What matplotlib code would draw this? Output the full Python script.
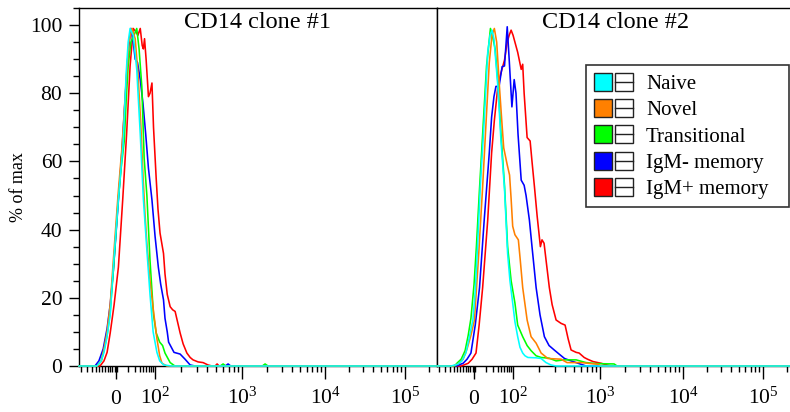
import numpy as np
import matplotlib
matplotlib.use('Agg')
import matplotlib.pyplot as plt
from matplotlib.patches import Rectangle, Patch
from matplotlib.lines import Line2D
from matplotlib.legend_handler import HandlerBase
from matplotlib.ticker import FixedLocator, FixedFormatter, MultipleLocator

plt.rcParams['font.family'] = ['Liberation Serif', 'DejaVu Serif']
plt.rcParams['mathtext.fontset'] = 'custom'
plt.rcParams['mathtext.rm'] = 'Liberation Serif'
plt.rcParams['mathtext.it'] = 'Liberation Serif:italic'
plt.rcParams['mathtext.bf'] = 'Liberation Serif:bold'

# ---------------- data (fluorescence value, % of max) ----------------
series_names = ['Naive', 'Novel', 'Transitional', 'IgM- memory', 'IgM+ memory']
series_colors = ['#00FFFF', '#FF8000', '#00FF00', '#0000FF', '#FF0000']
panel_titles = ['CD14 clone #1', 'CD14 clone #2']
x_major_ticks = [0, 100, 1000, 10000, 100000]
x_major_labels = ['0', r'$10^2$', r'$10^3$', r'$10^4$', r'$10^5$']

# Panel 1
naive1_x = [-95, -49, -38, -31, -24, -15, -7, 6, 18, 26, 31, 36, 44, 53, 62, 70, 79, 87, 95, 105,
            113, 126, 154, 250000]
naive1_y = [0, 0, 1.5, 4, 8, 15, 29, 49, 65, 86, 95, 99, 97, 87, 68, 49, 34, 21, 10, 4,
            1.5, 0.3, 0, 0]
novel1_x = [-95, -49, -38, -31, -23, -15, -7, 5, 15, 26, 33, 41, 49, 56, 63, 69, 74, 79, 87, 96,
            105, 113, 120, 137, 250000]
novel1_y = [0, 0, 1.5, 5, 10, 18, 31, 50, 64, 84, 95, 99, 96, 86, 72, 56, 45, 36, 25, 16,
            8, 3, 0.8, 0, 0]
trans1_x = [-95, -49, -38, -31, -23, -15, -7, 5, 13, 21, 26, 31, 38, 46, 53, 59, 66, 72, 79, 87,
            96, 103, 113, 122, 130, 149, 169, 560, 605, 650, 1750, 1892, 2050, 250000]
trans1_y = [0, 0, 1.5, 4.5, 9, 16, 28, 48, 58, 66, 78, 88, 95, 97, 99, 93, 82, 61, 50, 31,
            15, 9.7, 7, 6, 3.8, 1, 0, 0, 0.6, 0, 0, 0.6, 0, 0]
igmneg1_x = [-95, -54, -44, -33, -23, -15, -7, 5, 15, 23, 31, 38, 44, 49, 55, 62, 69, 76, 83, 92,
             100, 109, 116, 125, 130, 138, 143, 165, 194, 221, 253, 288, 640, 690, 740, 250000]
igmneg1_y = [0, 0, 1.5, 5, 11, 18, 28, 47, 63, 78, 92, 99, 95, 90, 89, 84, 77, 68, 58, 48.7,
             38, 29, 24, 19.4, 14, 10, 7, 4, 3.5, 2, 0.3, 0, 0, 0.6, 0, 0]
igmpos1_x = [-95, -41, -31, -23, -15, -5, 6, 17, 27, 36, 44, 51, 56, 62, 67, 70, 73, 77, 83, 87,
             92, 96, 103, 108, 114, 125, 130, 138, 149, 159, 170, 181, 194, 210, 232, 253, 273, 312,
             356, 406, 451, 490, 516, 545, 250000]
igmpos1_y = [0, 0, 1.5, 4, 9.7, 18, 29, 48.7, 68, 88, 99, 98, 97, 99, 94, 93, 96, 90, 79, 80,
             83, 70, 55, 46, 39, 33, 27, 21, 17.4, 16.5, 16, 13, 9.7, 6.5, 3.8, 2.5, 1.8, 1.2,
             1, 0.3, 0, 0, 0.6, 0, 0]

# Panel 2
naive2_x = [-95, -59, -42, -31, -21, -13, -3, 3, 8, 16, 26, 35, 41, 46, 51, 61, 69, 78, 86, 92,
            99, 105, 113, 120, 129, 137, 148, 184, 210, 239, 273, 312, 260000]
naive2_y = [0, 0, 0.5, 1.5, 3.8, 8, 13.5, 22, 33, 52.6, 72, 92, 97, 98.5, 96, 82, 66, 52, 33, 25,
            18.5, 13, 8.6, 5.5, 3.8, 3, 2.5, 2.4, 2.2, 1, 0.3, 0, 0]
novel2_x = [-95, -54, -38, -28, -18, -8, 1, 12, 22, 31, 39, 46, 52, 58, 65, 71, 76, 85, 91, 95,
            99, 105, 115, 121, 129, 145, 161, 184, 210, 251, 356, 417, 605, 787, 949, 1028, 260000]
novel2_y = [0, 0, 0.8, 2, 5, 9, 13.5, 33, 52.6, 72, 89, 97, 99, 95, 82, 72, 64, 59, 56, 49,
            41, 38.5, 37, 31, 23, 13.5, 8.6, 6.7, 3.8, 2.2, 2, 1, 1, 0.7, 0.5, 0, 0]
trans2_x = [-95, -50, -44, -33, -23, -15, -8, 0, 6, 14, 23, 32, 42, 47, 54, 62, 69, 78, 86, 95,
            105, 113, 129, 145, 161, 184, 210, 259, 312, 385, 530, 689, 900, 1475, 1602, 260000]
trans2_y = [0, 0, 0.8, 2, 4.5, 9, 14, 24, 35, 52, 70, 88, 99, 97, 93, 82, 68, 53, 35, 25,
            18.5, 12, 8.6, 6, 4.5, 3, 2.5, 2.3, 1.5, 1.8, 1.8, 1, 0.7, 0.6, 0, 0]
igmneg2_x = [-95, -46, -28, -18, -8, 3, 14, 26, 39, 45, 51, 56, 64, 72, 78, 85, 90, 97, 103, 108,
             114, 124, 134, 141, 154, 165, 184, 204, 229, 259, 297, 338, 390, 464, 530, 605, 689, 260000]
igmneg2_y = [0, 0, 0.8, 2, 3.8, 12, 23, 42.8, 62.5, 73, 79, 82, 82, 87.8, 88, 99.5, 90, 76, 84, 80,
             68, 54.5, 53, 50, 42.8, 35, 23, 15, 8.6, 6, 4.7, 3.5, 2.2, 1.5, 1, 0.5, 0, 0]
igmpos2_x = [-95, -33, -15, -5, 5, 13, 22, 35, 45, 52, 61, 69, 78, 85, 90, 95, 100, 105, 113, 124,
             129, 134, 145, 157, 165, 176, 189, 206, 215, 227, 242, 261, 281, 312, 356, 396, 429, 464,
             530, 574, 656, 716, 829, 1028, 1214, 1357, 260000]
igmpos2_y = [0, 0, 0.8, 2, 3.8, 12, 23, 42.8, 62.5, 72, 82, 86, 89.7, 95, 97, 98.5, 97, 95, 92, 87,
             88.5, 80, 67, 66, 60, 52.6, 44, 35, 37, 36, 30, 23, 18, 13.5, 12.5, 12, 8, 4.7,
             4, 3.8, 2.5, 2, 1.3, 0.8, 0.3, 0, 0]

panel1 = [(naive1_x, naive1_y), (novel1_x, novel1_y), (trans1_x, trans1_y),
          (igmneg1_x, igmneg1_y), (igmpos1_x, igmpos1_y)]
panel2 = [(naive2_x, naive2_y), (novel2_x, novel2_y), (trans2_x, trans2_y),
          (igmneg2_x, igmneg2_y), (igmpos2_x, igmpos2_y)]

# ---------------- biexponential-like display scale ----------------
LOG_KNOTS = np.array([2.0, 3.0, 4.0, 5.0, 6.0])
U_KNOTS = np.array([1.0, 1 + 87 / 39, 1 + 170 / 39, 1 + 250 / 39, 1 + 330 / 39])


def fwd(x):
    x = np.asarray(x, dtype=float)
    lg = np.log10(np.clip(x, 100.0, None))
    return np.where(x > 100, np.interp(lg, LOG_KNOTS, U_KNOTS), x / 100.0)


def inv(u):
    u = np.asarray(u, dtype=float)
    lg = np.interp(u, U_KNOTS, LOG_KNOTS)
    return np.where(u > 1, 10 ** lg, u * 100.0)


minor_ticks = [-90, -75, -62, -52, -44, -35, -28, -21, -15, -9.5, -3, 3]
minor_ticks += [100 * np.log10(m) for m in range(2, 10)]
for k in (2, 3, 4):
    minor_ticks += [m * 10 ** k for m in range(2, 10)]
minor_ticks += [200000]


class SwatchHandler(HandlerBase):
    def create_artists(self, legend, orig_handle, xdescent, ydescent, width, height, fontsize, trans):
        s = height
        x0 = -xdescent
        y0 = -ydescent
        gap = 0.18 * s
        r1 = Rectangle((x0, y0), s, s, facecolor=orig_handle.get_facecolor(),
                       edgecolor='#222222', lw=1.0, transform=trans)
        r2 = Rectangle((x0 + s + gap, y0), s, s, facecolor='white',
                       edgecolor='#222222', lw=1.0, transform=trans)
        ln = Line2D([x0 + s + gap, x0 + 2 * s + gap], [y0 + s / 2, y0 + s / 2],
                    color='#222222', lw=1.0, transform=trans)
        return [r1, r2, ln]


fig = plt.figure(figsize=(7.9, 4.12), dpi=100)
W = 358 / 790
H = 358 / 412
B = 46 / 412
ax1 = fig.add_axes([79 / 790, B, W, H])
ax2 = fig.add_axes([437 / 790, B, W, H])

for ax, data, title in ((ax1, panel1, panel_titles[0]), (ax2, panel2, panel_titles[1])):
    ax.set_xscale('function', functions=(fwd, inv))
    for i in reversed(range(len(series_names))):
        xs, ys = data[i]
        ax.plot(xs, ys, color=series_colors[i], lw=1.15, zorder=3, clip_on=False)
    ax.set_xlim(-95, 250000)
    ax.set_ylim(0, 105)
    ax.xaxis.set_major_locator(FixedLocator(x_major_ticks))
    ax.xaxis.set_major_formatter(FixedFormatter(x_major_labels))
    ax.xaxis.set_minor_locator(FixedLocator(minor_ticks))
    ax.tick_params(axis='x', which='major', length=9, width=1.0, labelsize=15.5, pad=18,
                   direction='out')
    ax.tick_params(axis='x', which='minor', length=4, width=1.0, direction='out')
    for lab in ax.get_xticklabels():
        lab.set_verticalalignment('baseline')
    for sp in ax.spines.values():
        sp.set_linewidth(1.0)
        sp.set_color('black')
    ax.text(0.5, 0.988, title, transform=ax.transAxes, ha='center', va='top', fontsize=17.5)

ax1.yaxis.set_major_locator(MultipleLocator(20))
ax1.yaxis.set_minor_locator(MultipleLocator(5))
ax1.tick_params(axis='y', which='major', length=7, width=1.0, labelsize=15.5, pad=5)
ax1.tick_params(axis='y', which='minor', length=4, width=1.0)
ax1.set_ylabel('% of max', fontsize=13, va='center')
ax1.yaxis.set_label_coords(-61 / 358, 0.5)
ax2.tick_params(axis='y', which='both', left=False, labelleft=False)

handles = [Patch(facecolor=c) for c in series_colors]
leg = fig.legend(handles, series_names, handler_map={Patch: SwatchHandler()},
                 loc='upper left', mode='expand',
                 bbox_to_anchor=(586 / 790, 1 - 205 / 412, 203 / 790, 140 / 412),
                 bbox_transform=fig.transFigure, frameon=True, fancybox=False,
                 edgecolor='#333333', framealpha=1, fontsize=15, handlelength=2.1,
                 handleheight=0.95, handletextpad=0.4, labelspacing=0.245, borderpad=0.38,
                 borderaxespad=0)
leg.get_frame().set_linewidth(1.2)

fig.savefig('out.png', dpi=100)
